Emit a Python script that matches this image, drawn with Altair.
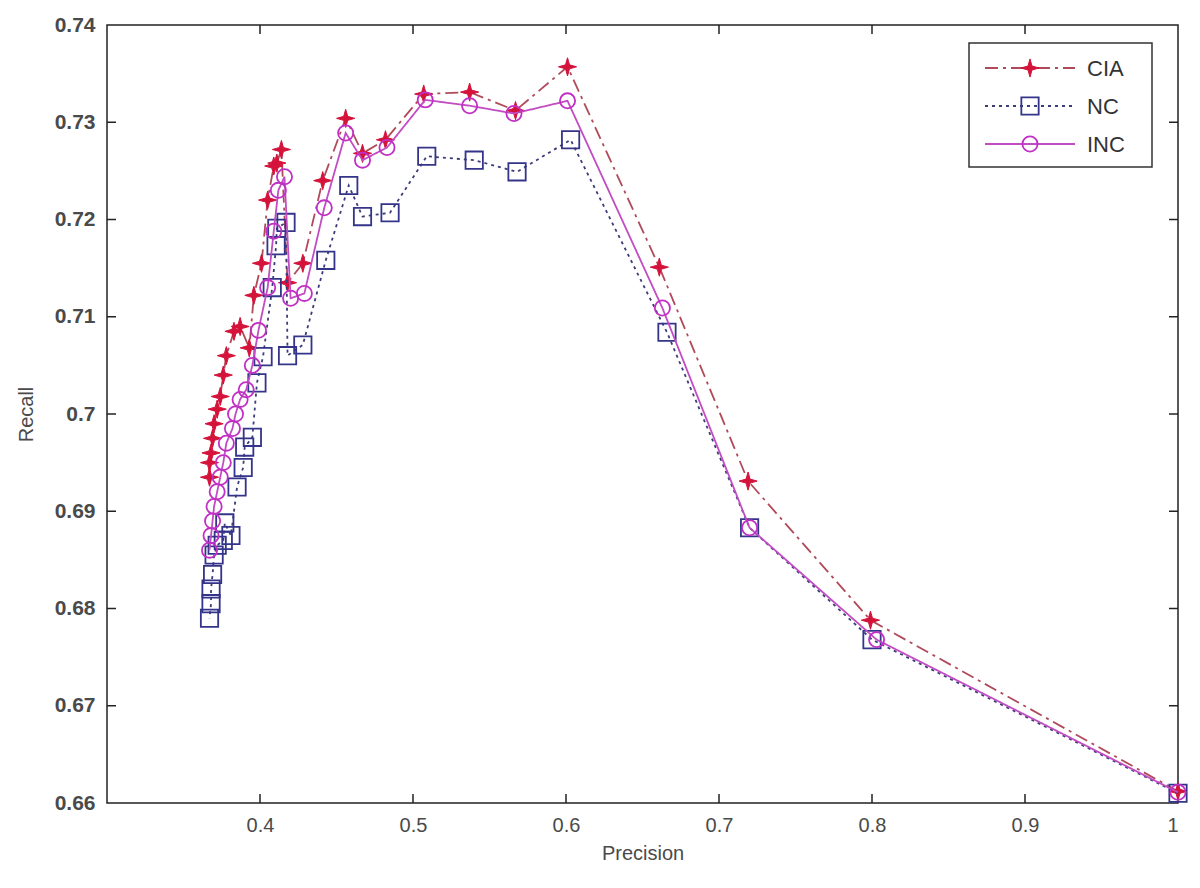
import altair as alt
import pandas as pd

# ---- data ----
series_names = ["CIA", "NC", "INC"]

cia_precision = [1.0, 0.799, 0.719, 0.661, 0.601, 0.567, 0.537, 0.507, 0.482, 0.467, 0.456, 0.441,
                 0.428, 0.418, 0.414, 0.411, 0.409, 0.405, 0.401, 0.396, 0.393, 0.387, 0.383, 0.378,
                 0.376, 0.374, 0.372, 0.370, 0.369, 0.368, 0.367, 0.367]
cia_recall = [0.6612, 0.6788, 0.6931, 0.7151, 0.7357, 0.7312, 0.7331, 0.7329, 0.7282, 0.7268, 0.7304, 0.7240,
              0.7155, 0.7135, 0.7272, 0.7258, 0.7255, 0.7220, 0.7155, 0.7122, 0.7068, 0.7090, 0.7085, 0.7060,
              0.7040, 0.7018, 0.7005, 0.6990, 0.6975, 0.6960, 0.6950, 0.6935]

nc_precision = [1.0, 0.800, 0.720, 0.666, 0.603, 0.568, 0.540, 0.509, 0.485, 0.467, 0.458, 0.443,
                0.428, 0.418, 0.417, 0.411, 0.4105, 0.408, 0.402, 0.398, 0.395, 0.390, 0.389, 0.385,
                0.381, 0.377, 0.376, 0.372, 0.370, 0.369, 0.368, 0.368, 0.367]
nc_recall = [0.6610, 0.6768, 0.6883, 0.7084, 0.7282, 0.7249, 0.7261, 0.7265, 0.7207, 0.7203, 0.7235, 0.7158,
             0.7071, 0.7060, 0.7197, 0.7191, 0.7173, 0.7130, 0.7059, 0.7032, 0.6976, 0.6966, 0.6945, 0.6925,
             0.6875, 0.6888, 0.6870, 0.6865, 0.6855, 0.6835, 0.6820, 0.6805, 0.6790]

inc_precision = [1.0, 0.803, 0.720, 0.663, 0.601, 0.566, 0.537, 0.508, 0.483, 0.467, 0.456, 0.442,
                 0.429, 0.420, 0.416, 0.412, 0.409, 0.405, 0.399, 0.395, 0.391, 0.387, 0.384, 0.382,
                 0.378, 0.376, 0.374, 0.372, 0.370, 0.369, 0.368, 0.367]
inc_recall = [0.6611, 0.6768, 0.6883, 0.7109, 0.7322, 0.7309, 0.7317, 0.7323, 0.7274, 0.7261, 0.7289, 0.7212,
              0.7124, 0.7119, 0.7244, 0.7230, 0.7188, 0.7130, 0.7086, 0.7050, 0.7025, 0.7015, 0.7000, 0.6985,
              0.6970, 0.6950, 0.6935, 0.6920, 0.6905, 0.6890, 0.6875, 0.6860]

x_ticks = [0.4, 0.5, 0.6, 0.7, 0.8, 0.9, 1.0]
y_ticks = [0.66, 0.67, 0.68, 0.69, 0.70, 0.71, 0.72, 0.73, 0.74]

# ---- styling ----
W, H = 1071, 778
FONT = "Liberation Sans"
STAR = "M0,-1L0.22,-0.22L1,0L0.22,0.22L0,1L-0.22,0.22L-1,0L-0.22,-0.22Z"

styles = {
    "CIA": dict(line="#b04a5a", dash=[13, 5, 3, 5], mark="#d4123a", shape=STAR, filled=True, size=330),
    "NC": dict(line="#3c3c78", dash=[3, 4], mark="#34348a", shape="square", filled=False, size=300),
    "INC": dict(line="#c24cc4", dash=[1, 0], mark="#c030c4", shape="circle", filled=False, size=230),
}

raw = {"CIA": (cia_precision, cia_recall), "NC": (nc_precision, nc_recall), "INC": (inc_precision, inc_recall)}
frames = []
for name in series_names:
    p, r = raw[name]
    frames.append(pd.DataFrame({"series": name, "order": range(len(p)), "precision": p, "recall": r}))
df = pd.concat(frames, ignore_index=True)

xscale = alt.Scale(domain=[0.3, 1.0], nice=False, zero=False)
yscale = alt.Scale(domain=[0.66, 0.74], nice=False, zero=False)

xaxis = alt.Axis(values=x_ticks, format=".1~f", title="Precision", ticks=False, domain=False, grid=False,
                 labelFont=FONT, labelFontSize=20, labelColor="#4a4a4a", labelPadding=12,
                 titleFont=FONT, titleFontSize=20, titleFontWeight="normal", titleColor="#4a4a4a", titlePadding=8)
yaxis = alt.Axis(values=y_ticks, format=".2~f", title="Recall", ticks=False, domain=False, grid=False,
                 labelFont=FONT, labelFontSize=21, labelFontWeight="bold", labelColor="#4a4a4a", labelPadding=12,
                 titleFont=FONT, titleFontSize=20, titleFontWeight="normal", titleColor="#4a4a4a", titlePadding=18)

layers = []
first = True
for name in series_names:
    s = styles[name]
    sub = df[df.series == name]
    base = alt.Chart(sub)
    if first:
        x = alt.X("precision:Q", scale=xscale, axis=xaxis)
        y = alt.Y("recall:Q", scale=yscale, axis=yaxis)
    else:
        x = alt.X("precision:Q", scale=xscale)
        y = alt.Y("recall:Q", scale=yscale)
    first = False
    line = base.mark_line(color=s["line"], strokeWidth=1.8, strokeDash=s["dash"]).encode(
        x=x, y=y, order="order:Q")
    if s["filled"]:
        pts = base.mark_point(shape=s["shape"], filled=True, fill=s["mark"], stroke=s["mark"],
                              strokeWidth=1, size=s["size"], opacity=1)
    else:
        pts = base.mark_point(shape=s["shape"], filled=False, stroke=s["mark"], strokeWidth=1.8,
                              size=s["size"], opacity=1)
    pts = pts.encode(x=x, y=y)
    layers += [line, pts]

# inward tick marks on all four sides (MATLAB box style)
xt = pd.DataFrame({"precision": x_ticks[:-1]})
yt = pd.DataFrame({"recall": y_ticks[1:-1]})
tick_color = "#222222"
layers.append(alt.Chart(xt).mark_rule(color=tick_color, strokeWidth=1.5).encode(
    x=alt.X("precision:Q", scale=xscale), y=alt.value(H), y2=alt.value(H - 9)))
layers.append(alt.Chart(xt).mark_rule(color=tick_color, strokeWidth=1.5).encode(
    x=alt.X("precision:Q", scale=xscale), y=alt.value(0), y2=alt.value(9)))
layers.append(alt.Chart(yt).mark_rule(color=tick_color, strokeWidth=1.5).encode(
    y=alt.Y("recall:Q", scale=yscale), x=alt.value(0), x2=alt.value(9)))
layers.append(alt.Chart(yt).mark_rule(color=tick_color, strokeWidth=1.5).encode(
    y=alt.Y("recall:Q", scale=yscale), x=alt.value(W), x2=alt.value(W - 9)))

# manual legend box
LX0, LX1, LY0, LY1 = 862, 1045, 18, 142
rows = {"CIA": 43, "NC": 81, "INC": 119}
layers.append(alt.Chart(alt.Data(values=[{"k": 1}])).mark_rect(fill="white", stroke="#333333", strokeWidth=1.5).encode(
    x=alt.value(LX0), x2=alt.value(LX1), y=alt.value(LY0), y2=alt.value(LY1)))
for name in series_names:
    s = styles[name]
    d = alt.Data(values=[{"series": name}])
    yy = rows[name]
    layers.append(alt.Chart(d).mark_rule(color=s["line"], strokeWidth=1.8, strokeDash=s["dash"]).encode(
        x=alt.value(878), x2=alt.value(968), y=alt.value(yy)))
    if s["filled"]:
        lp = alt.Chart(d).mark_point(shape=s["shape"], filled=True, fill=s["mark"], stroke=s["mark"],
                                     strokeWidth=1, size=s["size"], opacity=1)
    else:
        lp = alt.Chart(d).mark_point(shape=s["shape"], filled=False, stroke=s["mark"], strokeWidth=1.8,
                                     size=s["size"], opacity=1)
    layers.append(lp.encode(x=alt.value(923), y=alt.value(yy)))
    layers.append(alt.Chart(d).mark_text(align="left", baseline="middle", font=FONT, fontSize=22,
                                         color="#333333").encode(
        x=alt.value(980), y=alt.value(yy + 1), text="series:N"))

chart = alt.layer(*layers).properties(
    width=W, height=H,
    autosize=alt.AutoSizeParams(type="none"),
    padding={"left": 99, "top": 17, "right": 10, "bottom": 70},
).configure(background="white").configure_view(stroke="#222222", strokeWidth=1.5)

chart.save("out.html", embed_options={"renderer": "svg", "actions": False})
